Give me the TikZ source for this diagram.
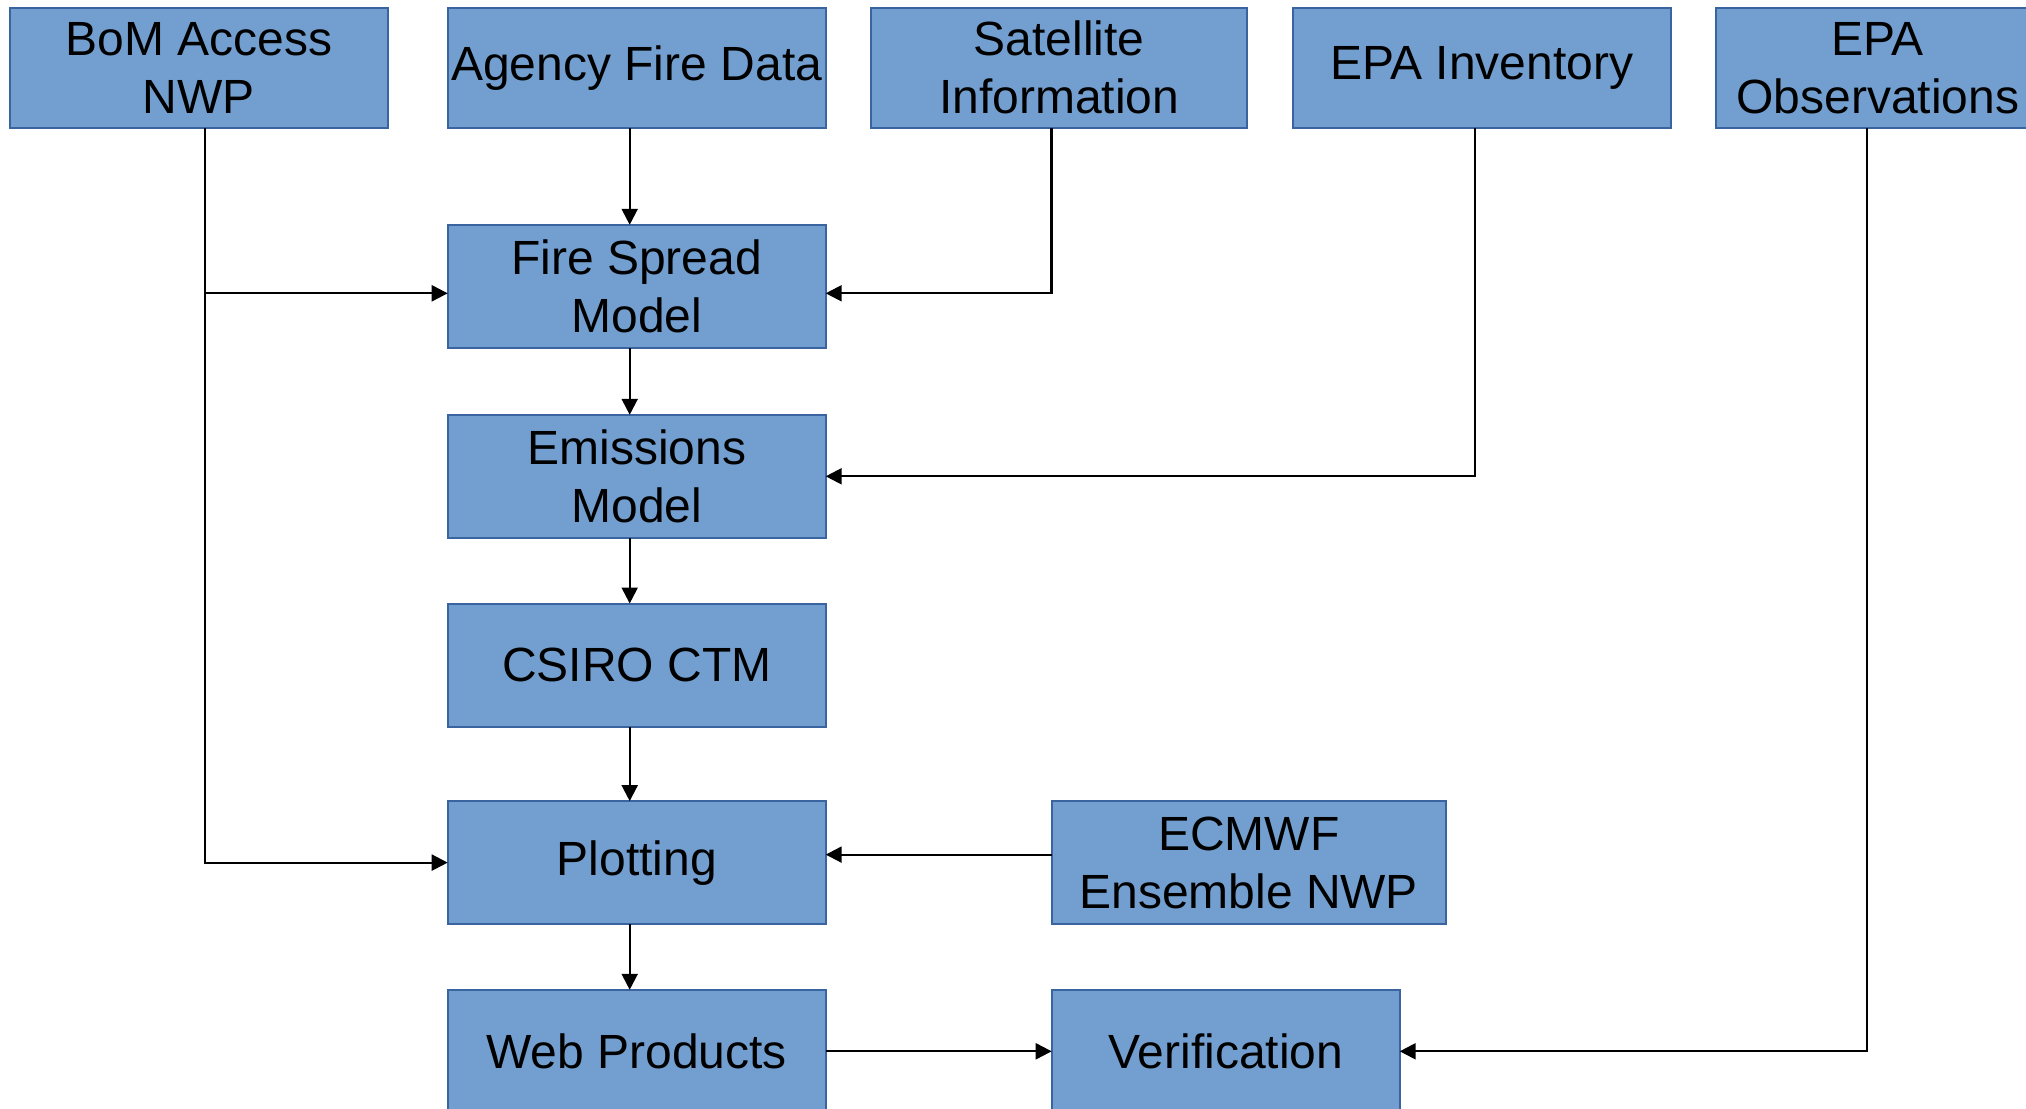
\documentclass[tikz,border=0pt]{standalone}
\usepackage{fontspec}
\setmainfont{Liberation Sans}
\usetikzlibrary{positioning, arrows.meta}
\definecolor{boxfill}{RGB}{114,159,207}
\definecolor{boxline}{RGB}{58,100,160}

\begin{document}
\begin{tikzpicture}[-{Triangle[length=8pt,width=8pt]}, line width=1.1pt, node distance=22.75pt,
  box/.style={rectangle, draw=boxline, fill=boxfill, line width=1pt, text=black, align=center,
    font=\fontsize{24}{29}\selectfont, minimum width=189pt, minimum height=61.5pt, inner sep=0pt, outer sep=0pt},
  topbox/.style={box, minimum height=60pt}]
	\useasboundingbox (0,0) rectangle (1013pt,-554.5pt);
	% sources along the top
	\node[topbox, anchor=north west] (bom) at (4.85pt,-3.9pt) {BoM Access\\NWP};
	\node[topbox] (agency) [right = 30pt of bom] {Agency Fire Data};
	\node[topbox, minimum width=188pt] (sat) [right = of agency] {Satellite\\Information};
	\node[topbox] (inv) [right = of sat] {EPA Inventory};
	\node[topbox, minimum width=161.5pt] (obs) [right = of inv] {EPA\\Observations};
	% main chain
	\node[box] (fire) [below = 48.5pt of agency] {Fire Spread\\Model};
	\node[box] (emis) [below = 33.5pt of fire] {Emissions\\Model};
	\node[box] (ctm) [below = 32.85pt of emis] {CSIRO CTM};
	\node[box] (plot) [below = 37.3pt of ctm] {Plotting};
	\node[box] (web) [below = 32.85pt of plot] {Web Products};
	\node[box, minimum width=197pt] (ecmwf) [right = 113pt of plot] {ECMWF\\Ensemble NWP};
	\node[box, minimum width=174pt] (verif) [right = 113pt of web] {Verification};
	% connectors
	\draw ([xshift=-3.5pt]agency.south) -- ([xshift=-3.5pt]fire.north);
	\draw ([xshift=-3.5pt]fire.south) -- ([xshift=-3.5pt]emis.north);
	\draw ([xshift=-3.5pt]emis.south) -- ([xshift=-3.5pt]ctm.north);
	\draw ([xshift=-3.5pt]ctm.south) -- ([xshift=-3.5pt]plot.north);
	\draw ([xshift=-3.5pt]plot.south) -- ([xshift=-3.5pt]web.north);
	\draw ([xshift=3.2pt]bom.south) |- ([yshift=-3.5pt]fire.west);
	\draw ([xshift=3.2pt]bom.south) |- (plot.west);
	\draw ([xshift=-3.85pt]sat.south) |- ([yshift=-3.5pt]fire.east);
	\draw ([xshift=-3.5pt]inv.south) |- (emis.east);
	\draw ([yshift=4pt]ecmwf.west) -- ([yshift=4pt]plot.east);
	\draw (web.east) -- (verif.west);
	\draw ([xshift=-5.4pt]obs.south) |- (verif.east);
\end{tikzpicture}
\end{document}
